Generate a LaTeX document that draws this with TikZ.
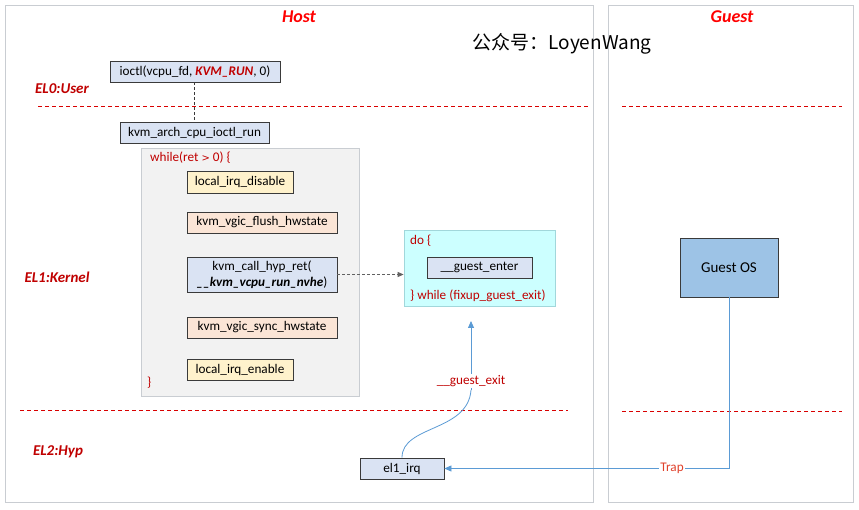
\documentclass[tikz,border=0pt]{standalone}
\usepackage{fontspec}
\setmainfont{Carlito}
\newfontfamily\cjkfont{Noto Sans CJK SC}
\usetikzlibrary{arrows.meta}
\definecolor{panelborder}{HTML}{C9CDD2}
\definecolor{boxborder}{HTML}{3A3A3A}
\definecolor{bluefill}{HTML}{DAE3F3}
\definecolor{yellowfill}{HTML}{FFF2CC}
\definecolor{peachfill}{HTML}{FBE5D6}
\definecolor{grayfill}{HTML}{F2F2F2}
\definecolor{cyanfill}{HTML}{CCFFFF}
\definecolor{osfill}{HTML}{9DC3E6}
\definecolor{darkred}{HTML}{C00000}
\definecolor{linkblue}{HTML}{5B9BD5}
\definecolor{trapcol}{HTML}{E0402A}
\tikzset{
  panel/.style={draw=panelborder, line width=0.8pt, fill=white, inner sep=0},
  fnbox/.style={draw=boxborder, line width=0.8pt, inner sep=0, align=center, font=\fontsize{13.2}{16}\selectfont},
  levellabel/.style={font=\fontsize{15}{18}\selectfont\bfseries\itshape, text=darkred},
  paneltitle/.style={font=\fontsize{18}{21}\selectfont\bfseries\itshape, text=red},
  codetext/.style={font=\fontsize{13.2}{16}\selectfont, text=darkred, anchor=west, inner sep=0},
  levelline/.style={draw=red!85!black, dashed, dash pattern=on 4pt off 3pt, line width=0.8pt},
  bluelink/.style={draw=linkblue, line width=0.8pt},
  bluetip/.style={-{Triangle[length=7pt,width=6pt]}}
}
\begin{document}
\begin{tikzpicture}[x=1pt,y=-1pt]
\useasboundingbox (0,0) rectangle (859,510);
% panels
\node[panel, minimum width=588, minimum height=497] (hostpanel) at (299,253.5) {};
\node[panel, minimum width=245, minimum height=497] (guestpanel) at (730.5,253.5) {};
\node[paneltitle] (hosttitle) at (299,17) {Host};
\node[paneltitle] (guesttitle) at (732,17) {Guest};
\node[font=\fontsize{19}{22}\selectfont\cjkfont] (wm) at (562,44) {公众号：LoyenWang};
% level labels and lines
\node[levellabel] (el0) at (62,89) {EL0:User};
\node[levellabel] (el1) at (57,277) {EL1:Kernel};
\node[levellabel] (el2) at (58,452) {EL2:Hyp};
\coordinate (l0a) at (38,106); \coordinate (l0b) at (588,106);
\coordinate (l0c) at (622,106); \coordinate (l0d) at (842,106);
\coordinate (l1a) at (20,410); \coordinate (l1b) at (568,410);
\coordinate (l1c) at (622,411); \coordinate (l1d) at (842,411);
\draw[levelline] (l0a) -- (l0b);
\draw[levelline] (l0c) -- (l0d);
\draw[levelline] (l1a) -- (l1b);
\draw[levelline] (l1c) -- (l1d);
% user / kernel boxes
\node[fnbox, fill=bluefill, minimum width=170, minimum height=21] (ioctl) at (195,71.5) {ioctl(vcpu\_fd, \textcolor{darkred}{\textbf{\textit{KVM\_RUN}}}, 0)};
\node[fnbox, fill=bluefill, minimum width=149, minimum height=21] (archrun) at (194.5,132.5) {kvm\_arch\_cpu\_ioctl\_run};
\draw[boxborder, dashed, dash pattern=on 3pt off 2pt, line width=0.8pt] (ioctl.south -| archrun.north) -- (archrun.north);
% loop
\node[draw=panelborder, line width=0.8pt, fill=grayfill, minimum width=218, minimum height=248, inner sep=0] (loopbox) at (250,272) {};
\node[codetext] (whiletxt) at (150,158) {while(ret {\fontspec{DejaVu Sans}\fontsize{10}{12}\selectfont>} 0) \{};
\node[codetext] (closebrace) at (147,383) {\}};
\node[fnbox, fill=yellowfill, minimum width=106, minimum height=22] (irqdis) at (240,182) {local\_irq\_disable};
\node[fnbox, fill=peachfill, minimum width=150, minimum height=21] (flush) at (262,222.5) {kvm\_vgic\_flush\_hwstate};
\node[fnbox, fill=bluefill, minimum width=150, minimum height=35] (callhyp) at (262,274.5) {kvm\_call\_hyp\_ret(\\\textbf{\textit{\_\_kvm\_vcpu\_run\_nvhe}})};
\node[fnbox, fill=peachfill, minimum width=150, minimum height=21] (sync) at (262,327.5) {kvm\_vgic\_sync\_hwstate};
\node[fnbox, fill=yellowfill, minimum width=106, minimum height=21] (irqen) at (240,369.5) {local\_irq\_enable};
% guest enter loop
\node[draw=panelborder!80!cyan, line width=0.8pt, fill=cyanfill, minimum width=151, minimum height=76, inner sep=0] (doloop) at (479.5,268) {};
\node[codetext] (dotxt) at (410,241) {do \{};
\node[codetext] (whiletxt2) at (410,296) {\} while (fixup\_guest\_exit)};
\node[fnbox, fill=bluefill, minimum width=105, minimum height=21] (genter) at (479.5,267.5) {\_\_guest\_enter};
\draw[boxborder!80, dashed, dash pattern=on 3pt off 2pt, line width=0.8pt, -{Triangle[length=6pt,width=5pt]}] (callhyp.east) -- (callhyp.east -| doloop.west);
% hyp
\node[fnbox, fill=bluefill, minimum width=84, minimum height=21] (elirq) at (402,468.5) {el1\_irq};
\node[draw=boxborder, line width=0.8pt, fill=osfill, minimum width=98, minimum height=59, inner sep=0, font=\fontsize{15}{18}\selectfont] (guestos) at (729,267.5) {Guest OS};
\coordinate (trapcorner) at (guestos.south |- elirq.east);
\draw[bluelink, bluetip] (guestos.south) -- (trapcorner) -- node[pos=0.2, fill=white, inner sep=1pt, text=trapcol, font=\fontsize{13.2}{16}\selectfont] (traplbl) {Trap} (elirq.east);
\coordinate (exitmid) at (471,390);
\coordinate (exittip) at (471,321);
\draw[bluelink] (elirq.north) .. controls (402,425) and (468,432) .. (exitmid);
\draw[bluelink, bluetip] (exitmid) -- node[pos=0.13, fill=white, inner sep=1pt, text=darkred, font=\fontsize{13.2}{16}\selectfont] (exitlbl) {\_\_guest\_exit} (exittip);
\end{tikzpicture}
\end{document}
